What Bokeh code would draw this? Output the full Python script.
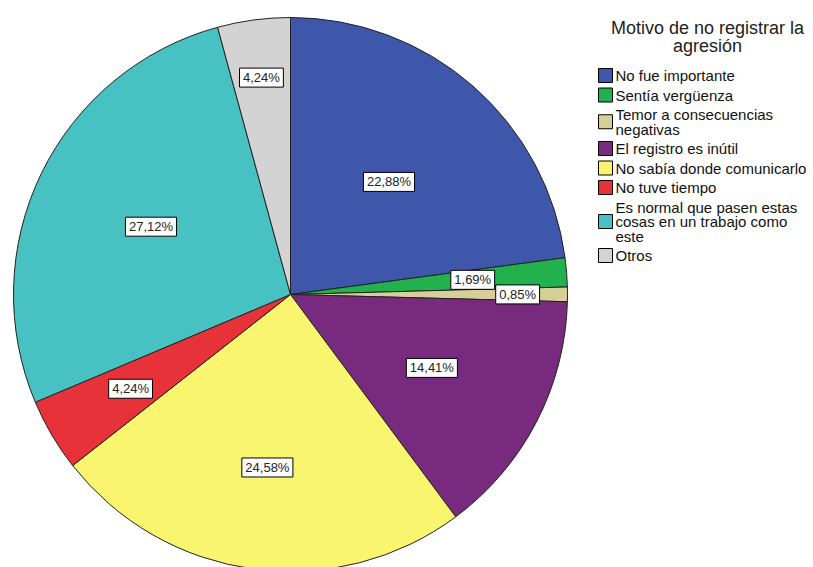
import math
from bokeh.plotting import figure
from bokeh.models import Range1d, ColumnDataSource
from bokeh.core.properties import value
from bokeh.embed import file_html
from bokeh.resources import INLINE

# ---- data ----
categories = [
    "No fue importante",
    "Sentía vergüenza",
    "Temor a consecuencias negativas",
    "El registro es inútil",
    "No sabía donde comunicarlo",
    "No tuve tiempo",
    "Es normal que pasen estas cosas en un trabajo como este",
    "Otros",
]
percentages = [22.88, 1.69, 0.85, 14.41, 24.58, 4.24, 27.12, 4.24]
pct_labels = ["22,88%", "1,69%", "0,85%", "14,41%", "24,58%", "4,24%", "27,12%", "4,24%"]
legend_lines = [
    ["No fue importante"],
    ["Sentía vergüenza"],
    ["Temor a consecuencias", "negativas"],
    ["El registro es inútil"],
    ["No sabía donde comunicarlo"],
    ["No tuve tiempo"],
    ["Es normal que pasen estas", "cosas en un trabajo como", "este"],
    ["Otros"],
]
legend_title = ["Motivo de no registrar la", "agresión"]

# ---- style ----
colors = ["#3f57ab", "#22b14c", "#d6cf9a", "#782a7e", "#f9f56e", "#e8323a", "#48c1c3", "#d3d3d3"]
label_r = [0.54, 0.66, 0.82, 0.575, 0.63, 0.67, 0.56, 0.79]
W, H = 813, 567
CX, CY, R = 290, H - 294, 277
FONT = value("Liberation Sans")

p = figure(width=W, height=H, x_range=Range1d(0, W), y_range=Range1d(0, H),
           output_backend="svg", toolbar_location=None, min_border=0)
p.axis.visible = False
p.grid.visible = False
p.outline_line_color = None
p.background_fill_color = "white"
p.border_fill_color = "white"

total = sum(percentages)
starts, ends, mids = [], [], []
cum = 0.0
for v in percentages:
    a0 = math.pi / 2 - 2 * math.pi * cum / total
    cum += v
    a1 = math.pi / 2 - 2 * math.pi * cum / total
    starts.append(a0)
    ends.append(a1)
    mids.append((a0 + a1) / 2)

src = ColumnDataSource(dict(start=starts, end=ends, color=colors))
p.wedge(x=CX, y=CY, radius=R, start_angle="start", end_angle="end", direction="clock",
        fill_color="color", line_color="#222222", line_width=1, source=src)

# percentage labels with boxes
def text_w(s, size):
    w = 0
    for ch in s:
        if ch.isdigit():
            w += 0.556
        elif ch == ",":
            w += 0.278
        elif ch == "%":
            w += 0.889
        else:
            w += 0.5
    return w * size

LS = 13
lx = [CX + R * f * math.cos(m) for f, m in zip(label_r, mids)]
ly = [CY + R * f * math.sin(m) for f, m in zip(label_r, mids)]
bw = [text_w(s, LS) + 7 for s in pct_labels]
lsrc = ColumnDataSource(dict(x=lx, y=ly, t=pct_labels, w=bw))
p.rect(x="x", y="y", width="w", height=19, width_units="screen", height_units="screen",
       fill_color="white", line_color="black", line_width=1, source=lsrc)
p.text(x="x", y="y", text="t", text_align="center", text_baseline="middle",
       text_font=FONT, text_font_size=f"{LS}px", text_color="#222222", source=lsrc)

# legend title
p.text(x=[707, 707], y=[H - 27, H - 45], text=legend_title, text_align="center",
       text_baseline="middle", text_font=FONT, text_font_size="18px", text_color="#222222")

# legend items
y0 = 75
line_step = 14.5
item_gap = 19.5
sq_x, sq_y, tx, ty, tt = [], [], [], [], []
y = y0
for i, lines in enumerate(legend_lines):
    n = len(lines)
    first = y
    for k, ln in enumerate(lines):
        tx.append(615)
        ty.append(H - (first + k * line_step))
        tt.append(ln)
    center = first + (n - 1) * line_step / 2
    sq_x.append(605)
    sq_y.append(H - center)
    y = first + (n - 1) * line_step + item_gap

p.rect(x=sq_x, y=sq_y, width=14, height=14, width_units="screen", height_units="screen",
       fill_color=colors, line_color="black", line_width=1)
p.text(x=tx, y=ty, text=tt, text_align="left", text_baseline="middle",
       text_font=FONT, text_font_size="15px", text_color="#111111")

open("out.html", "w").write(file_html(p, INLINE))
